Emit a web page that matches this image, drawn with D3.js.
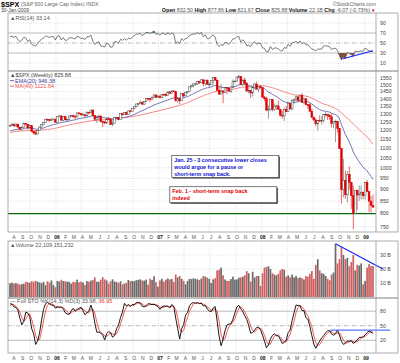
<!DOCTYPE html>
<html>
<head>
<meta charset="utf-8">
<script src="https://cdn.jsdelivr.net/npm/d3@7"></script>
<style>
  body { margin: 0; background: #fff; }
  svg { display: block; font-family: "Liberation Sans", Arial, sans-serif; }
</style>
</head>
<body>
<svg id="chart" width="400" height="363"></svg>
<script>
// warm-up weeks (Oct 15 2004 .. Jul 15 2005), only used to seed the indicators
const warmClose = [1108.2,1095.7,1130.2,1166.2,1184.2,1170.3,1182.7,1191.2,1188.0,1194.2,
  1210.1,1211.9,1186.2,1184.5,1167.9,1171.4,1203.0,1205.3,1201.6,1211.4,
  1222.1,1200.1,1190.2,1171.4,1172.9,1181.2,1142.6,1152.1,1156.9,1178.8,
  1154.1,1189.3,1198.8,1196.0,1200.9,1217.0,1191.6,1211.9,1211.9,1227.9];
const warmHigh = [1127,1119,1131,1170,1185,1184,1186,1197,1194,1206,
  1211,1217,1212,1191,1184,1179,1204,1208,1207,1212,
  1224,1229,1201,1194,1185,1191,1183,1163,1163,1186,
  1182,1192,1200,1206,1204,1219,1219,1214,1212,1229];
const warmLow = [1102,1090,1090,1130,1160,1169,1170,1172,1173,1187,
  1194,1204,1180,1175,1167,1163,1171,1194,1197,1184,
  1205,1199,1186,1171,1166,1172,1142,1137,1143,1157,
  1146,1154,1187,1191,1190,1199,1191,1188,1189,1211];

// weekly bars on the chart, first week ending Jul 22 2005, last Jan 30 2009
const firstWeek = '2005-07-22';
const close = [
  1229.9,1234.2,1226.4,1237.8,1219.7,1205.1,1218.0,1241.5,1237.9,1215.3,1228.8,1195.9,1186.6,1179.6,1198.4,1220.1,1234.7,1248.3,1268.3,1265.1,1259.4,1267.3,1268.7,1248.3,
  1285.5,1287.6,1261.5,1283.7,1264.0,1266.9,1287.2,1289.4,1287.2,1281.4,1307.3,1302.9,1294.8,1295.5,1289.1,1311.3,1310.6,1325.8,1291.2,1267.0,1280.2,1288.2,1252.3,1251.5,1244.5,1270.2,
  1265.5,1236.2,1240.3,1278.6,1279.4,1266.7,1302.3,1295.1,1311.0,1298.9,1319.7,1314.8,1335.9,1349.6,1365.6,1368.6,1377.3,1364.3,1380.9,1401.2,1400.9,1396.7,1409.8,1427.1,1410.8,1418.3,
  1409.7,1430.7,1430.5,1422.2,1448.4,1438.1,1455.5,1451.2,1387.2,1402.8,1386.9,1436.1,1420.9,1443.8,1452.9,1484.4,1494.1,1505.6,1505.9,1522.8,1515.7,1536.3,1507.7,1532.9,1502.6,1503.4,
  1530.4,1552.5,1534.1,1458.9,1433.1,1453.6,1445.9,1479.4,1473.9,1453.6,1484.3,1525.8,1526.8,1557.6,1561.8,1500.6,1535.3,1509.7,1453.7,1458.7,1440.7,1481.1,1504.7,1467.9,1484.5,1478.5,
  1411.6,1401.0,1325.2,1330.6,1395.4,1331.3,1349.0,1353.1,1330.6,1293.4,1288.1,1329.5,1315.2,1370.4,1332.8,1390.3,1397.8,1413.9,1388.3,1425.4,1375.9,1400.4,1360.7,1360.0,1317.9,1278.4,
  1262.9,1239.5,1260.7,1257.8,1260.3,1296.3,1298.2,1292.2,1282.8,1242.3,1251.7,1255.1,1213.3,1099.2,899.2,940.6,876.8,968.8,931.0,873.3,800.0,896.2,876.1,879.7,887.9,872.8,
  931.8,890.4,850.1,832.0,825.88];
const high = [
  1234,1245,1245,1239,1239,1221,1224,1243,1243,1238,1229,1229,1196,1197,1199,1224,1235,1249,1269,1269,1268,1275,1271,1270,
  1287,1295,1294,1286,1287,1270,1289,1294,1297,1289,1308,1310,1306,1310,1296,1318,1316,1326,1327,1294,1282,1290,1290,1259,1257,1276,
  1280,1274,1260,1280,1285,1282,1303,1302,1312,1315,1322,1328,1340,1353,1366,1372,1389,1382,1382,1403,1407,1406,1416,1431,1428,1427,
  1429,1431,1435,1441,1449,1453,1457,1461,1451,1410,1412,1438,1437,1446,1453,1485,1498,1510,1513,1523,1529,1540,1540,1538,1541,1517,
  1534,1555,1556,1535,1488,1504,1456,1480,1480,1482,1486,1539,1531,1560,1576,1564,1536,1552,1520,1492,1460,1488,1510,1523,1485,1497,
  1471,1420,1416,1355,1396,1396,1368,1361,1388,1334,1321,1341,1353,1380,1373,1396,1398,1422,1416,1426,1440,1406,1404,1366,1370,1334,
  1286,1275,1263,1292,1285,1297,1314,1303,1300,1303,1255,1265,1255,1215,1102,1044,986,984,1007,934,917,897,898,919,918,891,
  934,943,894,871,877.86];
const low = [
  1222,1228,1225,1221,1217,1204,1201,1218,1229,1205,1212,1190,1176,1175,1178,1198,1216,1231,1247,1256,1253,1257,1259,1248,
  1245,1281,1261,1258,1262,1253,1261,1283,1276,1269,1280,1296,1291,1292,1280,1284,1300,1307,1290,1256,1245,1259,1250,1219,1237,1239,
  1262,1234,1224,1240,1269,1261,1265,1290,1293,1292,1297,1311,1315,1331,1342,1355,1368,1360,1360,1378,1395,1378,1396,1406,1408,1410,
  1404,1403,1425,1416,1420,1436,1433,1449,1380,1374,1364,1386,1412,1420,1437,1450,1479,1481,1491,1498,1505,1510,1488,1492,1502,1484,
  1504,1503,1529,1458,1427,1433,1370,1444,1432,1452,1439,1476,1517,1527,1546,1500,1490,1498,1451,1438,1406,1416,1468,1467,1446,1470,
  1411,1384,1322,1270,1322,1317,1320,1326,1328,1283,1270,1257,1312,1312,1332,1324,1369,1383,1384,1386,1374,1362,1358,1331,1317,1278,
  1257,1225,1200,1250,1234,1247,1284,1263,1265,1217,1212,1133,1187,1097,840,866,859,845,899,818,741,798,815,851,857,857,
  858,888,805,804,821.67];
// weekly volume, billions of shares
const volume = [
  9.8,10.2,9.6,9.9,9.5,8.8,9.2,9.4,10.8,10.5,10.2,11.3,10.9,11.6,11.0,10.4,9.9,10.8,8.4,11.2,10.3,11.8,8.6,7.0,
  11.5,11.0,12.3,11.4,11.2,11.0,10.8,9.5,10.8,10.6,12.4,10.5,11.0,10.4,8.5,11.3,10.9,11.7,12.2,14.0,11.0,10.8,12.4,14.2,12.6,11.8,
  9.6,11.3,12.6,11.0,10.8,10.0,11.2,9.0,9.6,10.1,12.2,11.3,11.5,11.3,12.0,12.3,12.6,11.8,11.7,12.4,8.8,13.1,12.2,14.8,10.7,7.5,
  11.9,13.0,11.0,12.4,13.2,12.5,12.8,10.8,16.0,14.0,15.0,13.0,11.6,9.0,11.5,13.0,12.8,13.4,13.0,12.6,12.2,13.2,15.0,14.5,13.8,13.0,
  10.0,12.6,13.5,19.0,19.5,21.0,15.5,12.5,11.5,11.5,12.8,14.5,12.4,12.6,13.8,14.0,14.5,15.5,18.5,17.0,11.0,18.0,14.0,15.0,15.0,8.0,
  17.0,21.0,21.5,22.0,20.0,17.0,16.0,15.5,16.5,19.0,20.0,19.5,14.5,15.5,14.0,16.0,14.0,15.0,13.5,14.0,13.5,12.5,15.0,14.5,16.5,18.5,
  13.0,23.0,27.0,19.0,17.0,16.5,15.0,13.0,12.0,16.0,17.5,38.0,24.0,27.0,35.5,30.0,27.0,28.0,22.0,25.0,30.0,19.0,23.0,22.5,24.0,9.0,
  11.5,21.0,23.5,22.0,22.1];

// axis ticks
const priceTicks = [750,800,850,900,950,1000,1050,1100,1150,1200,1250,1300,1350,1400,1450,1500,1550];
const rsiTicks = [10,30,50,70,90];
const volTicks = [10,20,30];
const stoTicks = [20,50,80];
const monthLetters = ['J','F','M','A','M','J','J','A','S','O','N','D'];

// hand drawn annotations
const rsiTrend = [['2008-10-16', 18.6], ['2009-01-30', 34.5]];
const volTrend = [['2008-09-19', 38], ['2009-03-06', 20]];
const stoLevel = [['2008-08-31', 41], ['2009-04-01', 41]];
const supportLevel = 800;
const notes = [
  { date: '2007-02-16', price: 1062, color: '#1010d0', h: 22,
    lines: ['Jan. 25 - 3 consecutive lower closes', 'would argue for a pause or', 'short-term snap back.'] },
  { date: '2007-02-09', price: 912, color: '#e00000', h: 16,
    lines: ['Feb. 1 - short-term snap back', 'indeed'] },
];

const L = 8, R = 376, EDGE = 398;
const P = { rsi: [13, 71], price: [71, 232], vol: [241, 298], sto: [298, 353] };

const parse = d3.utcParse('%Y-%m-%d');
const start = parse(firstWeek);
const dates = close.map((d, i) => d3.utcDay.offset(start, 7 * i));

// indicators
function sma(a, n) {
  return a.map((v, i) => (i < n - 1 || a[i - n + 1] == null) ? null : d3.mean(a.slice(i - n + 1, i + 1)));
}
function ema(a, n) {
  const k = 2 / (n + 1);
  let e = null;
  return a.map((v, i) => {
    if (i < n - 1) return null;
    if (i === n - 1) { e = d3.mean(a.slice(0, n)); return e; }
    e = v * k + e * (1 - k);
    return e;
  });
}
function rsi(a, n) {
  const out = a.map(() => null);
  let g = 0, l = 0;
  for (let i = 1; i <= n; i++) {
    const d = a[i] - a[i - 1];
    if (d > 0) g += d; else l -= d;
  }
  g /= n; l /= n;
  out[n] = 100 - 100 / (1 + g / l);
  for (let i = n + 1; i < a.length; i++) {
    const d = a[i] - a[i - 1];
    g = (g * (n - 1) + Math.max(d, 0)) / n;
    l = (l * (n - 1) + Math.max(-d, 0)) / n;
    out[i] = 100 - 100 / (1 + g / l);
  }
  return out;
}

const allC = warmClose.concat(close), allH = warmHigh.concat(high), allL = warmLow.concat(low);
const off = warmClose.length;
const rawK = allC.map((c, i) => {
  if (i < 13) return null;
  const hh = d3.max(allH.slice(i - 13, i + 1)), ll = d3.min(allL.slice(i - 13, i + 1));
  return (c - ll) / (hh - ll) * 100;
});
const fullK = sma(rawK, 3);
const fullD = sma(fullK, 3);
const ema20 = ema(allC, 20);
const ma40 = sma(allC, 40);
const rsi14 = rsi(allC, 14);

const bars = close.map((c, i) => ({
  date: dates[i], o: allC[off + i - 1], h: high[i], l: low[i], c, v: volume[i],
  ema: ema20[off + i], ma: ma40[off + i], rsi: rsi14[off + i], k: fullK[off + i], d: fullD[off + i],
}));

// scales
const x = d3.scaleUtc().domain(d3.extent(dates)).range([10, 373]);
const yP = d3.scaleLog().domain([750, 1550]).range([226.8, 78]);
const yR = d3.scaleLinear().domain([0, 100]).range([68, 18]);
const yV = d3.scaleLinear().domain([0, 40]).range([297, 241]);
const yS = d3.scaleLinear().domain([0, 100]).range([350, 301.5]);

const svg = d3.select('#chart');
const defs = svg.append('defs');
function clip(id, x0, y0, x1, y1) {
  defs.append('clipPath').attr('id', id).append('rect')
    .attr('x', x0).attr('y', y0).attr('width', x1 - x0).attr('height', y1 - y0);
}
clip('c-rsi', L, P.rsi[0], R, P.rsi[1]);
clip('c-price', L, P.price[0], R, P.price[1]);
clip('c-vol', L, P.vol[0], R, P.vol[1]);
clip('c-sto', L, P.sto[0], R, P.sto[1]);
clip('c-over70', L, P.rsi[0], R, yR(70));
clip('c-under30', L, yR(30), R, P.rsi[1]);

const quarters = d3.utcMonth.every(3).range(d3.utcMonth.ceil(dates[0]), d3.utcDay.offset(dates[dates.length - 1], 7));

function grid(top, bottom, ys) {
  const gg = svg.append('g');
  gg.selectAll('line.v').data(quarters).join('line')
    .attr('x1', d => x(d)).attr('x2', d => x(d)).attr('y1', top).attr('y2', bottom)
    .attr('stroke', '#c8c8c8').attr('stroke-width', 0.6).attr('stroke-dasharray', '1,1.5');
  gg.selectAll('line.h').data(ys).join('line')
    .attr('x1', L).attr('x2', R).attr('y1', d => d).attr('y2', d => d)
    .attr('stroke', '#c8c8c8').attr('stroke-width', 0.6).attr('stroke-dasharray', '1,1.5');
}
function frame(top, bottom) {
  svg.append('rect').attr('x', L).attr('y', top).attr('width', EDGE - L).attr('height', bottom - top)
    .attr('fill', 'none').attr('stroke', '#999').attr('stroke-width', 0.8);
  svg.append('line').attr('x1', R).attr('x2', R).attr('y1', top).attr('y2', bottom)
    .attr('stroke', '#999').attr('stroke-width', 0.8);
}
function axisLabels(vals, y, fmt) {
  svg.append('g').selectAll('text').data(vals).join('text')
    .attr('x', 380).attr('y', d => y(d) + 1.8)
    .style('font-size', '5.2px').attr('fill', '#444')
    .text(fmt);
}
function level(y, v, dash) {
  svg.append('line').attr('x1', L).attr('x2', R).attr('y1', y(v)).attr('y2', y(v))
    .attr('stroke', '#aaa').attr('stroke-width', 0.8).attr('stroke-dasharray', dash);
}
const small = sel => sel.style('font-size', '5.5px');

// ---- header
svg.append('text').attr('x', 1).attr('y', 6.6).style('font-size', '7.2px').style('font-weight', 'bold').text('$SPX');
svg.append('text').attr('x', 21).attr('y', 6.4).style('font-size', '5.2px').attr('fill', '#666')
  .text('(S&P 500 Large Cap Index) INDX');
svg.append('text').attr('x', 1).attr('y', 12.4).style('font-size', '5px').attr('fill', '#444').text('30-Jan-2009');
svg.append('text').attr('x', 376).attr('y', 5.5).attr('text-anchor', 'end').style('font-size', '5.2px')
  .attr('fill', '#666').text('\u00a9StockCharts.com');
const quote = [['Open', '832.50'], ['High', '877.86'], ['Low', '821.67'], ['Close', '825.88'],
  ['Volume', '22.1B'], ['Chg', '-6.07 (-0.73%)']];
const qt = svg.append('text').attr('x', 370).attr('y', 12.4).attr('text-anchor', 'end').style('font-size', '5.3px');
quote.forEach(([k, v]) => {
  qt.append('tspan').style('font-weight', 'bold').attr('fill', '#111').text(k + ' ');
  qt.append('tspan').attr('fill', '#555').text(v + ' ');
});
svg.append('text').attr('x', 371).attr('y', 12.4).style('font-size', '4.5px').attr('fill', '#c00').text('\u25bc');

// ---- RSI panel
grid(P.rsi[0], P.rsi[1], [yR(10), yR(90)]);
level(yR, 70, null); level(yR, 30, null); level(yR, 50, '4,1.5,1,1.5');
const gr = svg.append('g').attr('clip-path', 'url(#c-rsi)');
const rb = bars.filter(d => d.rsi != null);
gr.append('path').datum(rb).attr('clip-path', 'url(#c-over70)')
  .attr('d', d3.area().x(d => x(d.date)).y0(yR(70)).y1(d => yR(d.rsi)))
  .attr('fill', '#3a9a3a');
gr.append('path').datum(rb).attr('clip-path', 'url(#c-under30)')
  .attr('d', d3.area().x(d => x(d.date)).y0(yR(30)).y1(d => yR(d.rsi)))
  .attr('fill', '#8c4c40');
gr.append('path').datum(rb).attr('d', d3.line().x(d => x(d.date)).y(d => yR(d.rsi)))
  .attr('fill', 'none').attr('stroke', '#444').attr('stroke-width', 0.7);
svg.append('path').datum(rsiTrend).attr('d', d3.line().x(d => x(parse(d[0]))).y(d => yR(d[1])))
  .attr('stroke', '#1020ff').attr('stroke-width', 1.1);
frame(P.rsi[0], P.rsi[1]);
axisLabels(rsiTicks, yR, d => d);
svg.append('text').attr('x', 10).attr('y', 19.5).call(small).attr('fill', '#555').text('\u25b2RSI(14) 33.14');

// ---- price panel
grid(P.price[0], P.price[1], priceTicks.map(yP));
const gp = svg.append('g').attr('clip-path', 'url(#c-price)');
gp.append('line').attr('x1', L).attr('x2', R).attr('y1', yP(supportLevel)).attr('y2', yP(supportLevel))
  .attr('stroke', '#0a6a0a').attr('stroke-width', 1.3);
gp.append('path').datum(bars).attr('d', d3.line().x(d => x(d.date)).y(d => yP(d.ma)))
  .attr('fill', 'none').attr('stroke', '#f46a6a').attr('stroke-width', 0.8);
gp.append('path').datum(bars).attr('d', d3.line().x(d => x(d.date)).y(d => yP(d.ema)))
  .attr('fill', 'none').attr('stroke', '#5050a8').attr('stroke-width', 0.8);
const down = d => d.c < d.o;
const candle = gp.selectAll('g.bar').data(bars).join('g');
candle.append('line')
  .attr('x1', d => x(d.date)).attr('x2', d => x(d.date))
  .attr('y1', d => yP(d.h)).attr('y2', d => yP(d.l))
  .attr('stroke', d => down(d) ? '#e00000' : '#555').attr('stroke-width', 0.6);
candle.append('rect')
  .attr('x', d => x(d.date) - 0.9).attr('width', 1.8)
  .attr('y', d => yP(Math.max(d.o, d.c)))
  .attr('height', d => Math.max(0.7, Math.abs(yP(d.o) - yP(d.c))))
  .attr('fill', d => down(d) ? '#e00000' : '#fff')
  .attr('stroke', d => down(d) ? '#e00000' : '#444').attr('stroke-width', 0.5);
frame(P.price[0], P.price[1]);
axisLabels(priceTicks, yP, d => d);
svg.append('text').attr('x', 10).attr('y', 77).call(small).attr('fill', '#444').text('\u25b2$SPX (Weekly) 825.88');
[['EMA(20) 946.38', '#3a3a9a'], ['MA(40) 1121.64', '#f05050']].forEach(([t, c], i) => {
  const yy = 82.5 + i * 5.5;
  svg.append('line').attr('x1', 10).attr('x2', 14).attr('y1', yy - 1.8).attr('y2', yy - 1.8)
    .attr('stroke', c).attr('stroke-width', 0.8);
  svg.append('text').attr('x', 15).attr('y', yy).call(small).attr('fill', c).text(t);
});
notes.forEach(n => {
  const bx = x(parse(n.date)), by = yP(n.price);
  svg.append('rect').attr('x', bx + 1).attr('y', by + 1).attr('width', 107).attr('height', n.h).attr('fill', '#333');
  svg.append('rect').attr('x', bx).attr('y', by).attr('width', 107).attr('height', n.h)
    .attr('fill', '#fff').attr('stroke', '#444').attr('stroke-width', 0.7);
  n.lines.forEach((t, i) => {
    svg.append('text').attr('x', bx + 2.5).attr('y', by + 6 + i * 7.3)
      .style('font-size', '5.4px').style('font-weight', 'bold').attr('fill', n.color).text(t);
  });
});

// ---- month labels
const months = d3.utcMonth.range(d3.utcMonth.ceil(dates[0]), d3.utcDay.offset(dates[dates.length - 1], 1));
function monthRow(y) {
  svg.append('g').selectAll('text').data(months).join('text')
    .attr('x', d => x(d) + 1.2).attr('y', y).attr('text-anchor', 'middle')
    .style('font-size', '5px')
    .style('font-weight', d => d.getUTCMonth() === 0 ? 'bold' : null)
    .attr('fill', d => d.getUTCMonth() === 0 ? '#111' : '#555')
    .text(d => d.getUTCMonth() === 0 ? d3.utcFormat('%y')(d) : monthLetters[d.getUTCMonth()]);
}
monthRow(239);
monthRow(360);

// ---- volume panel
grid(P.vol[0], P.vol[1], volTicks.map(yV));
const gv = svg.append('g').attr('clip-path', 'url(#c-vol)');
gv.selectAll('rect').data(bars).join('rect')
  .attr('x', d => x(d.date) - 0.85).attr('width', 1.7)
  .attr('y', d => yV(d.v)).attr('height', d => yV(0) - yV(d.v))
  .attr('fill', d => down(d) ? '#d06060' : '#6a6a6a');
svg.append('path').datum(volTrend).attr('d', d3.line().x(d => x(parse(d[0]))).y(d => yV(d[1])))
  .attr('stroke', '#1020ff').attr('stroke-width', 1.1);
frame(P.vol[0], P.vol[1]);
axisLabels(volTicks, yV, d => d + ' B');
svg.append('text').attr('x', 10).attr('y', 247).call(small).attr('fill', '#555').text('\u25b2Volume 22,109,151,232');

// ---- stochastics panel
grid(P.sto[0], P.sto[1], []);
level(yS, 80, null); level(yS, 20, null); level(yS, 50, '4,1.5,1,1.5');
const gs = svg.append('g').attr('clip-path', 'url(#c-sto)');
gs.append('path').datum(bars.filter(d => d.d != null)).attr('d', d3.line().x(d => x(d.date)).y(d => yS(d.d)))
  .attr('fill', 'none').attr('stroke', '#f03030').attr('stroke-width', 0.8);
gs.append('path').datum(bars.filter(d => d.k != null)).attr('d', d3.line().x(d => x(d.date)).y(d => yS(d.k)))
  .attr('fill', 'none').attr('stroke', '#000').attr('stroke-width', 0.9);
svg.append('path').datum(stoLevel).attr('d', d3.line().x(d => x(parse(d[0]))).y(d => yS(d[1])))
  .attr('stroke', '#3050ff').attr('stroke-width', 1);
frame(P.sto[0], P.sto[1]);
axisLabels(stoTicks, yS, d => d);
const st = svg.append('text').attr('x', 10).attr('y', 303).call(small).attr('fill', '#555');
st.append('tspan').text('\u2014 Full STO %K(14,3) %D(3) 33.98, ');
st.append('tspan').attr('fill', '#f03030').text('36.95');
</script>
</body>
</html>
